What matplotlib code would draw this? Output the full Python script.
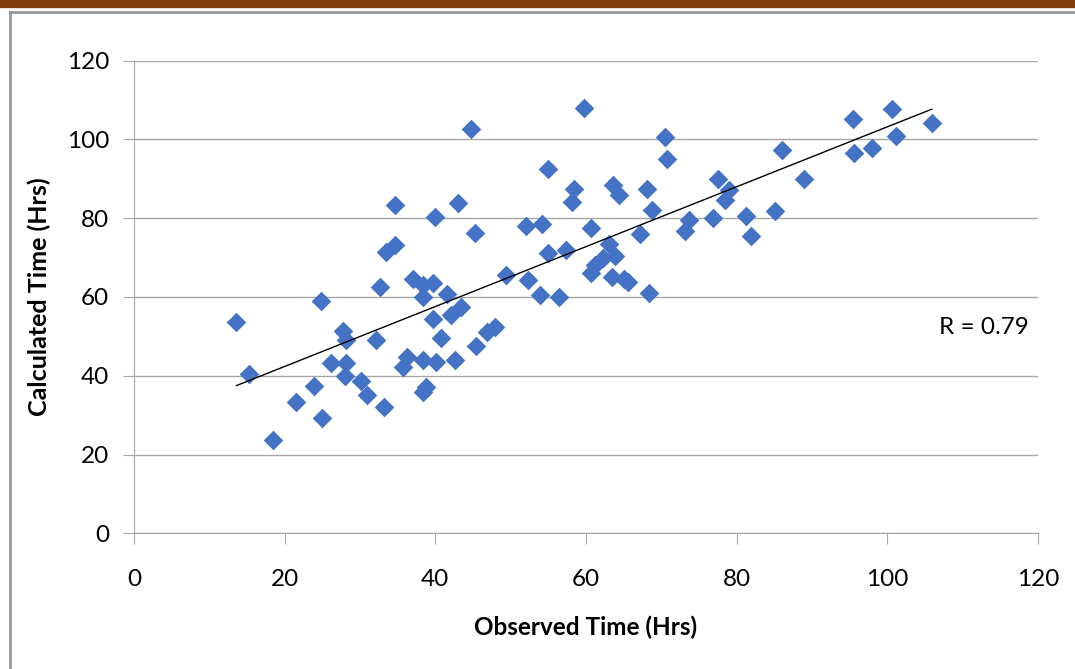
import numpy as np
import matplotlib
matplotlib.use("Agg")
import matplotlib.pyplot as plt
from matplotlib.lines import Line2D

observed = [13.6, 15.2, 18.5, 21.5, 23.9, 24.8, 25.0, 26.1, 27.8, 28.2,
            28.2, 28.0, 30.1, 30.9, 32.1, 32.6, 33.2, 33.5, 34.7, 34.6,
            35.7, 36.2, 37.0, 38.4, 39.7, 38.4, 38.4, 38.8, 38.4, 39.7,
            40.0, 40.1, 40.8, 41.6, 42.1, 43.4, 42.6, 43.0, 44.7, 45.2,
            45.4, 46.8, 47.9, 49.4, 52.1, 52.3, 53.9, 54.2, 55.0, 55.0,
            56.4, 57.3, 58.2, 58.4, 59.7, 60.6, 60.6, 61.2, 62.2, 63.1,
            63.8, 63.5, 65.0, 65.6, 63.6, 64.4, 67.2, 68.1, 68.4, 68.7,
            70.5, 70.8, 73.2, 73.7, 76.8, 77.5, 78.5, 79.0, 81.2, 81.9,
            85.1, 86.0, 88.9, 95.4, 95.6, 97.9, 100.6, 101.2, 105.9]
calculated = [53.6, 40.5, 23.7, 33.2, 37.4, 59.0, 29.2, 43.3, 51.3, 49.1,
              43.3, 39.8, 38.6, 35.1, 49.1, 62.4, 32.1, 71.4, 73.1, 83.4,
              42.3, 44.8, 64.5, 63.0, 63.6, 60.0, 44.1, 37.2, 35.9, 54.5,
              80.3, 43.6, 49.6, 60.8, 55.4, 57.5, 44.1, 83.9, 102.6, 76.2,
              47.5, 51.2, 52.4, 65.5, 77.9, 64.4, 60.4, 78.4, 92.5, 71.2,
              60.1, 71.8, 84.1, 87.5, 108.0, 77.4, 66.0, 68.0, 69.8, 73.3,
              70.5, 65.0, 64.5, 63.8, 88.3, 85.8, 76.0, 87.5, 61.0, 82.1,
              100.5, 95.0, 76.8, 79.6, 79.9, 90.0, 84.6, 87.2, 80.6, 75.5,
              81.8, 97.4, 89.8, 105.1, 96.4, 97.8, 107.6, 100.8, 104.1]
r_label = "R = 0.79"
ticks = [0, 20, 40, 60, 80, 100, 120]

plt.rcParams['font.family'] = ['Lato', 'DejaVu Sans']

fig = plt.figure(figsize=(10.75, 6.69), dpi=100)

# page decoration: brown bar on top, gray frame
fig.add_artist(Line2D([0, 1], [1 - 4 / 669, 1 - 4 / 669], color="#843C0C", lw=6, transform=fig.transFigure))
fig.add_artist(Line2D([10 / 1075, 1], [1 - 12 / 669, 1 - 12 / 669], color="#999999", lw=2, transform=fig.transFigure))
fig.add_artist(Line2D([10 / 1075, 10 / 1075], [0, 1 - 12 / 669], color="#999999", lw=2, transform=fig.transFigure))

ax = fig.add_axes([134 / 1075, 1 - 533.3 / 669, 904 / 1075, 472.8 / 669])

ax.scatter(observed, calculated, marker="D", s=100, color="#4472C4", zorder=3, linewidths=0)

slope, intercept = np.polyfit(observed, calculated, 1)
xs = np.array([min(observed), max(observed)])
ax.plot(xs, slope * xs + intercept, color="black", lw=1, zorder=4)

ax.text(0.94, 0.435, r_label, transform=ax.transAxes, ha="center", va="center", fontsize=17.5)

ax.set_xlim(0, 120)
ax.set_ylim(0, 120)
ax.set_xticks(ticks)
ax.set_yticks(ticks)
ax.yaxis.grid(True, color="#A6A6A6", lw=1)
ax.set_axisbelow(True)
for s in ["top", "right"]:
    ax.spines[s].set_visible(False)
for s in ["left", "bottom"]:
    ax.spines[s].set_color("#A6A6A6")
ax.tick_params(colors="#A6A6A6", labelcolor="black", length=8, labelsize=17.5)
ax.tick_params(axis="x", pad=18)
ax.tick_params(axis="y", pad=10)

ax.set_xlabel("Observed Time (Hrs)", fontsize=17.5, fontweight="bold", labelpad=18)
ax.set_ylabel("Calculated Time (Hrs)", fontsize=18, fontweight="bold", labelpad=11)

plt.savefig("out.png", dpi=100)
